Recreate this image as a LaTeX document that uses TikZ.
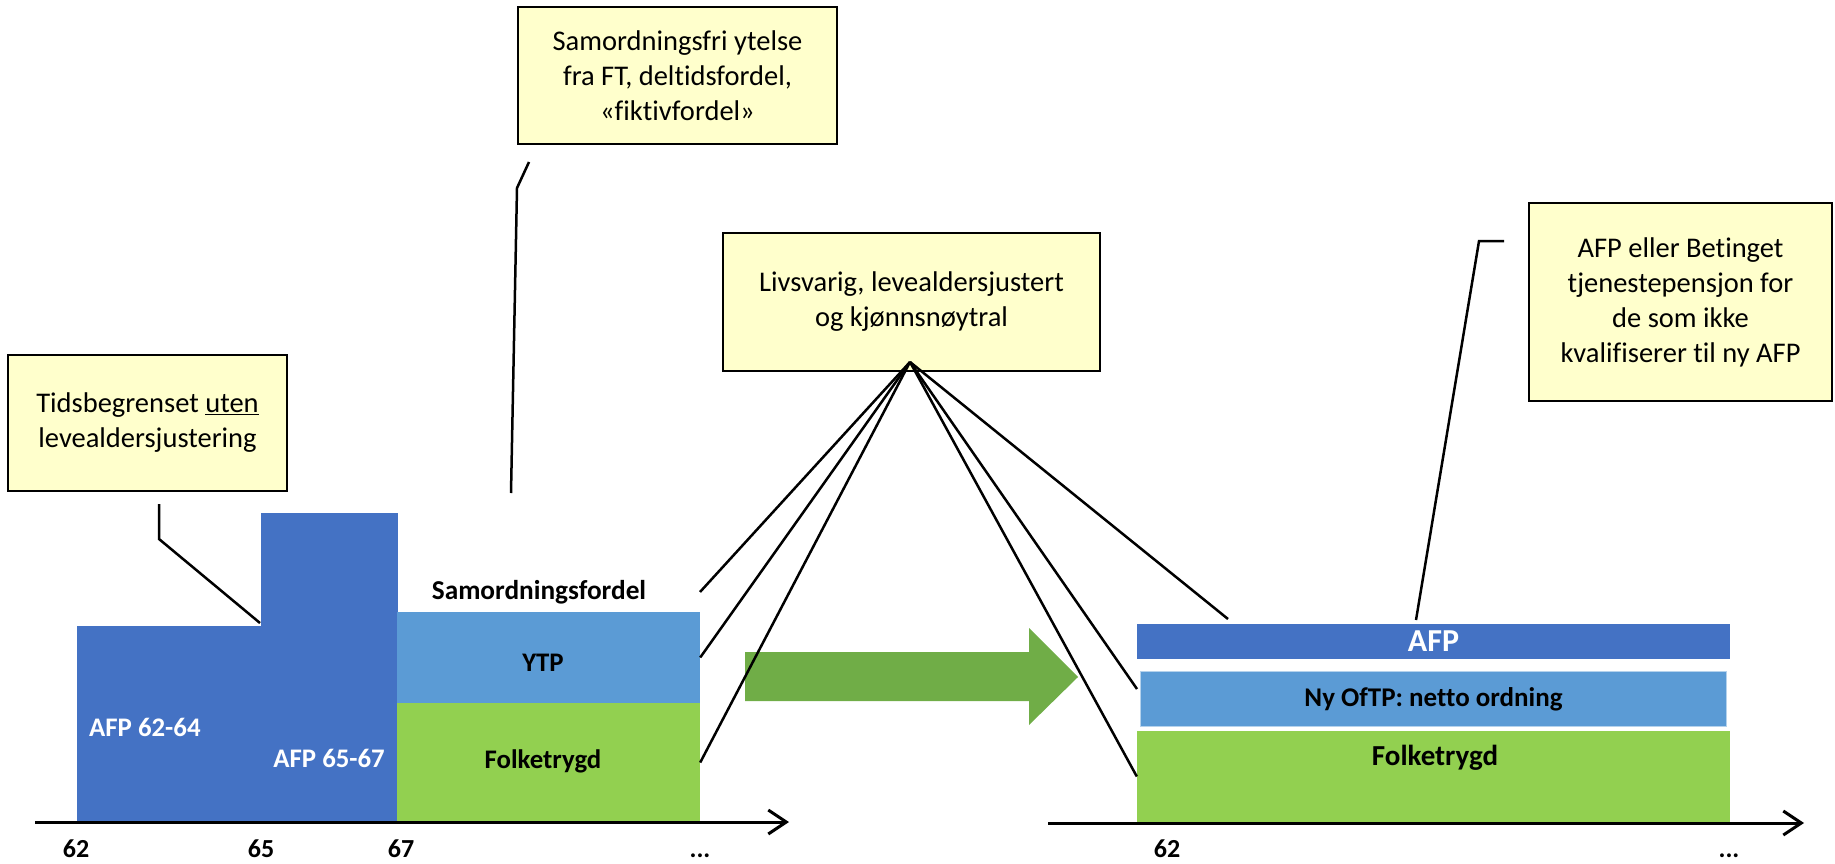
\documentclass[tikz,border=0pt]{standalone}
\usepackage{fontspec}
\setmainfont{Carlito}[Ligatures=NoCommon]
\usetikzlibrary{calc,arrows.meta}
\definecolor{afpblue}{HTML}{4472C4}
\definecolor{ytpblue}{HTML}{5B9BD5}
\definecolor{ftgreen}{HTML}{92D050}
\definecolor{arrowgreen}{HTML}{70AD47}
\definecolor{noteyellow}{HTML}{FFFFCC}

\begin{document}
\begin{tikzpicture}[x=1pt,y=-1pt, lead/.style={line width=2.5pt}]
		% Define styles
		\tikzstyle{note}=[draw=black,line width=2pt,fill=noteyellow,align=center,inner sep=0pt,font=\fontsize{28.5}{35}\selectfont]
		\tikzstyle{bar}=[inner sep=0pt,font=\fontsize{26.8}{31}\selectfont\bfseries]
		\tikzstyle{tick}=[anchor=base,font=\fontsize{26}{31}\selectfont\bfseries]
		\tikzstyle{axis}=[line width=3pt,-{Straight Barb[length=18pt,width=24pt]}]
		
		\useasboundingbox (0,0) rectangle (1835,864);
		
		% Callouts
		\node[note,minimum width=279,minimum height=136] (note1) at (147.5,423) {Tidsbegrenset \underline{uten}\\levealdersjustering};
		\node[note,minimum width=319,minimum height=137] (note2) at (677.5,75.5) {Samordningsfri ytelse\\fra FT, deltidsfordel,\\«fiktivfordel»};
		\node[note,minimum width=377,minimum height=138] (note3) at (911.5,302) {Livsvarig, levealdersjustert\\og kjønnsnøytral};
		\node[note,minimum width=303,minimum height=198] (note4) at (1680.5,302) {AFP eller Betinget\\tjenestepensjon for\\de som ikke\\kvalifiserer til ny AFP};
		
		% Today's scheme
		\begin{scope}
			\node[bar,fill=afpblue,minimum width=184,minimum height=196] (afp1) at (169,724) {};
			\node[bar,fill=afpblue,minimum width=137,minimum height=309] (afp2) at (329.5,667.5) {};
			\node[bar,fill=ytpblue,minimum width=303,minimum height=91] (ytp) at (548.5,657.5) {};
			\node[bar,fill=ftgreen,minimum width=303,minimum height=119] (ft) at (548.5,762.5) {};
			\node[bar,text=white,anchor=west] (afplab1) at (89,727) {AFP 62-64};
			\node[bar,text=white,anchor=east] (afplab2) at (385,758) {AFP 65-67};
			\node[bar,font=\fontsize{27.3}{32}\selectfont\bfseries] (samlab) at (539,592) {Samordningsfordel};
			\node[bar] (ytplab) at (543,663) {YTP};
			\node[bar] (ftlab) at (543,761) {Folketrygd};
			
			\coordinate (axa) at (35,822);
			\coordinate (axb) at (789,822);
			\draw[axis] (axa) -- (axb);
			\node[tick] (t62) at (76,857) {62};
			\node[tick] (t65) at (261,857) {65};
			\node[tick] (t67) at (401,857) {67};
			\node[tick] (tend) at (700,857) {...};
		\end{scope}
		
		% Big arrow
		\fill[arrowgreen] (745,652) -- (1029,652) -- (1029,628) -- (1078,677) -- (1029,725) -- (1029,701) -- (745,701) -- cycle;
		
		% New scheme
		\begin{scope}
			\node[bar,fill=afpblue,text=white,minimum width=593,minimum height=35,font=\fontsize{32}{38}\selectfont\bfseries] (afpny) at (1433.5,641.5) {AFP};
			\node[bar,fill=ytpblue,draw=ytpblue!45,line width=1pt,minimum width=586,minimum height=55,font=\fontsize{27}{32}\selectfont\bfseries] (oftp) at (1433.5,699) {Ny OfTP: netto ordning};
			\node[bar,fill=ftgreen,minimum width=593,minimum height=91] (ftny) at (1433.5,776.5) {};
			\node[bar,font=\fontsize{29}{34}\selectfont\bfseries] (ftnylab) at (1435,758) {Folketrygd};
			
			\coordinate (axc) at (1048,823);
			\coordinate (axd) at (1804,823);
			\draw[axis] (axc) -- (axd);
			\node[tick] (n62) at (1167,857) {62};
			\node[tick] (nend) at (1729,857) {...};
		\end{scope}
		
		% Leader lines
		\coordinate (l1a) at (159,504);
		\coordinate (l1b) at (159,539);
		\coordinate (l1c) at (260,623);
		\draw[lead] (l1a) -- (l1b) -- (l1c);
		
		\coordinate (l2a) at (529,162);
		\coordinate (l2b) at (517,188);
		\coordinate (l2c) at (511,493);
		\draw[lead] (l2a) -- (l2b) -- (l2c);
		
		\coordinate (hub) at (910,362);
		\coordinate (samend) at (700,592);
		\coordinate (afpend) at (1228,619);
		\coordinate (oftpend) at (1137,689);
		\foreach \t in {samend,ytp.east,ft.east,afpend,oftpend,ftny.west}
			\draw[lead] (hub) -- (\t);
		
		\coordinate (l4a) at (1416,620);
		\coordinate (l4b) at (1479,241);
		\coordinate (l4c) at (1504,241);
		\draw[lead] (l4a) -- (l4b) -- (l4c);
		
	\end{tikzpicture}
\end{document}
